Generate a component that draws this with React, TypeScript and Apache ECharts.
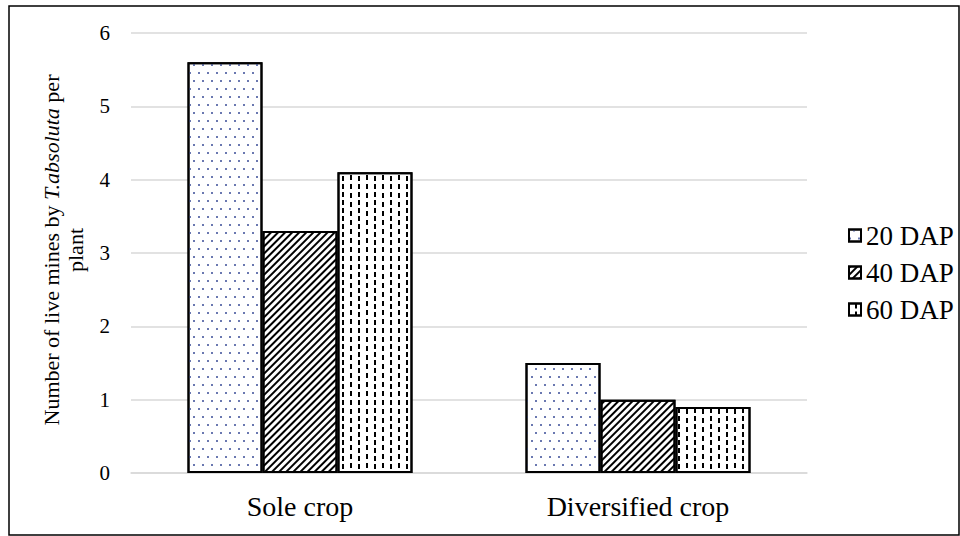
import React, { useEffect, useRef } from "react";
import * as echarts from "echarts";

const categories = ["Sole crop", "Diversified crop"];
const seriesNames = ["20 DAP", "40 DAP", "60 DAP"];
const dap20 = [5.6, 1.5];
const dap40 = [3.3, 1.0];
const dap60 = [4.1, 0.9];
const yTicks = [0, 1, 2, 3, 4, 5, 6];
const yTitleLine1 = "{n|Number of live mines by }{i|T.absoluta}{n| per}";
const yTitleLine2 = "{n|plant}";

const FONT = "Liberation Serif";

const decals: any[] = [
  {
    symbol: "rect",
    symbolSize: 1,
    color: "#6a78b0",
    backgroundColor: "#ffffff",
    dashArrayX: [[1.5, 6.5], [0, 3.5, 1.5, 3]],
    dashArrayY: [1.5, 5.5],
    rotation: 0,
  },
  {
    symbol: "rect",
    symbolSize: 1,
    color: "#000000",
    backgroundColor: "#ffffff",
    dashArrayX: [1, 0],
    dashArrayY: [1.8, 2.2],
    rotation: -Math.PI / 4,
  },
  {
    symbol: "rect",
    symbolSize: 1,
    color: "#000000",
    backgroundColor: "#ffffff",
    dashArrayX: [[5, 3], [0, 4, 5, 0]],
    dashArrayY: [1.6, 5.8],
    rotation: Math.PI / 2,
  },
];

const richStyle = {
  n: { fontFamily: FONT, fontSize: 22, fill: "#000" },
  i: { fontFamily: FONT, fontSize: 22, fill: "#000", fontStyle: "italic" },
};

export default function App() {
  const ref = useRef<HTMLDivElement>(null);
  useEffect(() => {
    if (!ref.current) return;
    const chart = echarts.init(ref.current, null, { renderer: "svg" });
    const data = [dap20, dap40, dap60];
    chart.setOption({
      animation: false,
      backgroundColor: "#ffffff",
      textStyle: { fontFamily: FONT },
      grid: { left: 131, right: 153, top: 33, bottom: 63, containLabel: false },
      legend: {
        orient: "vertical",
        left: 843,
        top: 217,
        icon: "rect",
        itemWidth: 12,
        itemHeight: 12,
        itemGap: 10,
        itemTextGap: 7,
        textStyle: { fontFamily: FONT, fontSize: 27, color: "#000", lineHeight: 27 },
        data: seriesNames,
      },
      xAxis: {
        type: "category",
        data: categories,
        axisLine: { show: true, lineStyle: { color: "#d9d9d9", width: 1.5 } },
        axisTick: { show: false },
        axisLabel: { fontFamily: FONT, fontSize: 28, color: "#000", margin: 19 },
      },
      yAxis: {
        type: "value",
        min: yTicks[0],
        max: yTicks[yTicks.length - 1],
        interval: 1,
        axisLine: { show: false },
        axisTick: { show: false },
        splitLine: { lineStyle: { color: "#d9d9d9", width: 1.5 } },
        axisLabel: { fontFamily: FONT, fontSize: 21, color: "#000", margin: 21 },
      },
      series: seriesNames.map((name, k) => ({
        name,
        type: "bar",
        data: data[k],
        barWidth: 75,
        barGap: "0%",
        itemStyle: {
          color: "#ffffff",
          borderColor: "#000000",
          borderWidth: 2,
          decal: decals[k],
        },
      })),
      graphic: [
        {
          type: "rect",
          shape: { x: 9, y: 6, width: 950, height: 529 },
          style: { fill: "none", stroke: "#000", lineWidth: 1.5 },
          silent: true,
        },
        {
          type: "text",
          x: 51,
          y: 250,
          rotation: Math.PI / 2,
          silent: true,
          style: {
            text: yTitleLine1,
            align: "center",
            verticalAlign: "middle",
            fontFamily: FONT,
            fontSize: 22,
            fill: "#000",
            rich: richStyle,
          },
        },
        {
          type: "text",
          x: 75,
          y: 250,
          rotation: Math.PI / 2,
          silent: true,
          style: {
            text: yTitleLine2,
            align: "center",
            verticalAlign: "middle",
            fontFamily: FONT,
            fontSize: 22,
            fill: "#000",
            rich: richStyle,
          },
        },
      ],
    });
    return () => chart.dispose();
  }, []);
  return (
    <div
      ref={ref}
      style={{ position: "absolute", left: 0, top: 0, width: 960, height: 536 }}
    />
  );
}
